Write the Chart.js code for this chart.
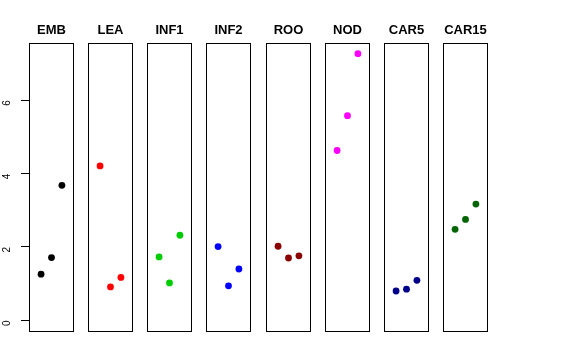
<!DOCTYPE html>
<html>
<head>
<meta charset="utf-8">
<script src="https://cdn.jsdelivr.net/npm/chart.js@4.4.0/dist/chart.umd.min.js"></script>
<style>
  html, body { margin: 0; padding: 0; background: #fff; }
  #wrap { position: relative; width: 576px; height: 360px; overflow: hidden; }
  #wrap canvas { position: absolute; top: 0; }
</style>
</head>
<body>
<div id="wrap"></div>
<script>
// panel names and colours
const groups = ["EMB", "LEA", "INF1", "INF2", "ROO", "NOD", "CAR5", "CAR15"];
const colors = ["#000000", "#FF0000", "#00CD00", "#0000FF", "#8B0000", "#FF00FF", "#00008B", "#006400"];

// 3 replicates per panel (x = 1, 2, 3)
const reps = [1, 2, 3];
const EMB = [1.26, 1.71, 3.68];
const LEA = [4.21, 0.91, 1.17];
const INF1 = [1.73, 1.02, 2.32];
const INF2 = [2.01, 0.94, 1.40];
const ROO = [2.02, 1.70, 1.76];
const NOD = [4.63, 5.58, 7.27];
const CAR5 = [0.80, 0.85, 1.09];
const CAR15 = [2.48, 2.75, 3.17];
const values = [EMB, LEA, INF1, INF2, ROO, NOD, CAR5, CAR15];

const yTicks = [0, 2, 4, 6];

const wrap = document.getElementById("wrap");
const panelLeft = [29, 88, 147, 206, 266, 325, 384, 443];
const panelW = 45;
const side = 7;
const axisW = panelLeft[0];

// box around each panel + panel title centred over the box
const panelPlugin = {
  id: "panel",
  afterDatasetsDraw(chart, args, opts) {
    const a = chart.chartArea;
    const ctx = chart.ctx;
    ctx.save();
    ctx.strokeStyle = "#000";
    ctx.lineWidth = 1;
    ctx.strokeRect(Math.round(a.left) + 0.5, Math.round(a.top) + 0.5,
      Math.round(a.right - a.left) - 1, Math.round(a.bottom - a.top));
    ctx.fillStyle = "#000";
    ctx.font = "bold 13px 'Liberation Sans', Arial, sans-serif";
    ctx.textAlign = "center";
    ctx.textBaseline = "alphabetic";
    ctx.fillText(opts.text, (a.left + a.right) / 2, 33.5);
    ctx.restore();
  },
};

groups.forEach((name, i) => {
  const first = i === 0;
  const canvas = document.createElement("canvas");
  const left = first ? 0 : panelLeft[i] - side;
  const width = first ? axisW + panelW + side : panelW + side * 2;
  canvas.style.left = left + "px";
  canvas.width = width;
  canvas.height = 360;
  canvas.style.width = width + "px";
  canvas.style.height = "360px";
  wrap.appendChild(canvas);

  new Chart(canvas, {
    type: "scatter",
    data: {
      datasets: [
        {
          data: reps.map((r, k) => ({ x: r, y: values[i][k] })),
          backgroundColor: colors[i],
          borderWidth: 0,
          pointRadius: 3.4,
        },
      ],
    },
    options: {
      responsive: false,
      animation: false,
      layout: { padding: { left: first ? 0 : side, right: side, top: 43, bottom: 29 } },
      plugins: {
        legend: { display: false },
        tooltip: { enabled: false },
        title: { display: false },
        panel: { text: name },
      },
      scales: {
        x: { type: "linear", min: -0.16, max: 4.16, display: false },
        y: {
          type: "linear",
          min: -0.29,
          max: 7.56,
          display: first,
          afterBuildTicks: (scale) => {
            scale.ticks = yTicks.map((v) => ({ value: v }));
          },
          afterFit: (scale) => {
            if (first) scale.width = axisW;
          },
          grid: { drawOnChartArea: false, tickLength: 8, color: "#000", tickColor: "#000" },
          border: { display: false },
          ticks: {
            color: "#000",
            minRotation: 90,
            maxRotation: 90,
            padding: 14,
            font: { family: "Liberation Sans, Arial, sans-serif", size: 10 },
          },
        },
      },
    },
    plugins: [panelPlugin],
  });
});
</script>
</body>
</html>
